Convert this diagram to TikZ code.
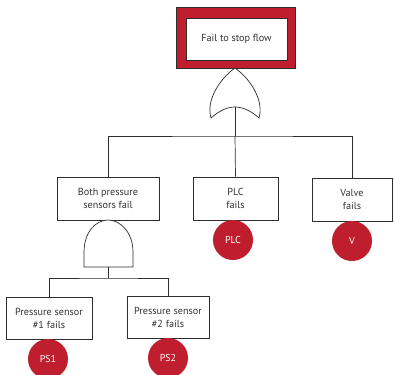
\documentclass[tikz,border=0pt]{standalone}
\usepackage{fontspec}
\setmainfont{PT Sans}
\definecolor{ftred}{RGB}{190,30,45}
\definecolor{ftline}{RGB}{45,45,45}
\definecolor{fttext}{RGB}{50,50,50}
\begin{document}
\begin{tikzpicture}[x=1pt,y=-1pt,
  evbox/.style={draw=ftline,line width=0.8pt,fill=white,align=center,inner sep=0pt,
    font=\fontsize{10.2}{13}\selectfont,text=fttext},
  basic/.style={circle,fill=ftred,minimum size=40pt,inner sep=0pt,text=white,
    font=\fontsize{10}{12}\selectfont},
  wire/.style={draw=ftline,line width=0.7pt},
  gate/.style={draw=ftline,line width=0.7pt,fill=white}]
\useasboundingbox (0,0) rectangle (394,375);
% top event
\node[draw=ftline,line width=0.6pt,fill=ftred,minimum width=119pt,minimum height=61pt,inner sep=0pt] (topframe) at (235.5,37.5) {};
\node[evbox,minimum width=101pt,minimum height=42pt] (top) at (236.5,39) {Fail to stop flow};
% OR gate
\coordinate (ortip) at (235,68);
\coordinate (ornotch) at (235,107);
\path[gate] (ortip) .. controls (218,80) and (206,102) .. (211,118)
  .. controls (220,110) and (228,107) .. (ornotch)
  .. controls (242,107) and (250,110) .. (259,118)
  .. controls (264,102) and (252,80) .. (ortip) -- cycle;
% event boxes
\node[evbox,minimum width=102pt,minimum height=43pt] (both) at (108,198.5) {Both pressure\\sensors fail};
\node[evbox,minimum width=85pt,minimum height=43pt] (plc) at (235.5,198.5) {PLC\\fails};
\node[evbox,minimum width=80pt,minimum height=43pt] (valve) at (352,199.5) {Valve\\fails};
\node[evbox,minimum width=86pt,minimum height=42pt] (ps1) at (49,318) {Pressure sensor\\\#1 fails};
\node[evbox,minimum width=82pt,minimum height=42pt] (ps2) at (168,317) {Pressure sensor\\\#2 fails};
% basic events
\node[basic] (cplc) at (233,240) {PLC};
\node[basic] (cv) at (352,241) {V};
\node[basic] (cps1) at (48,359) {PS1};
\node[basic] (cps2) at (168,358) {PS2};
% connectors from OR
\coordinate (orbar) at (235,136);
\draw[wire] (ornotch) -- (orbar);
\draw[wire] (both.north) |- (orbar) -| (valve.north);
\draw[wire] (orbar) -- (plc.north);
% AND gate
\coordinate (andtop) at (108,220);
\coordinate (andbot) at (108,267);
\path[gate] (84,267) -- (84,252) .. controls (84,232) and (96,220) .. (andtop)
  .. controls (120,220) and (133,232) .. (133,252) -- (133,267) -- cycle;
\coordinate (andbar) at (108,278);
\draw[wire] (andbot) -- (andbar);
\draw[wire] (ps1.north) |- (andbar) -| (ps2.north);
\end{tikzpicture}
\end{document}
